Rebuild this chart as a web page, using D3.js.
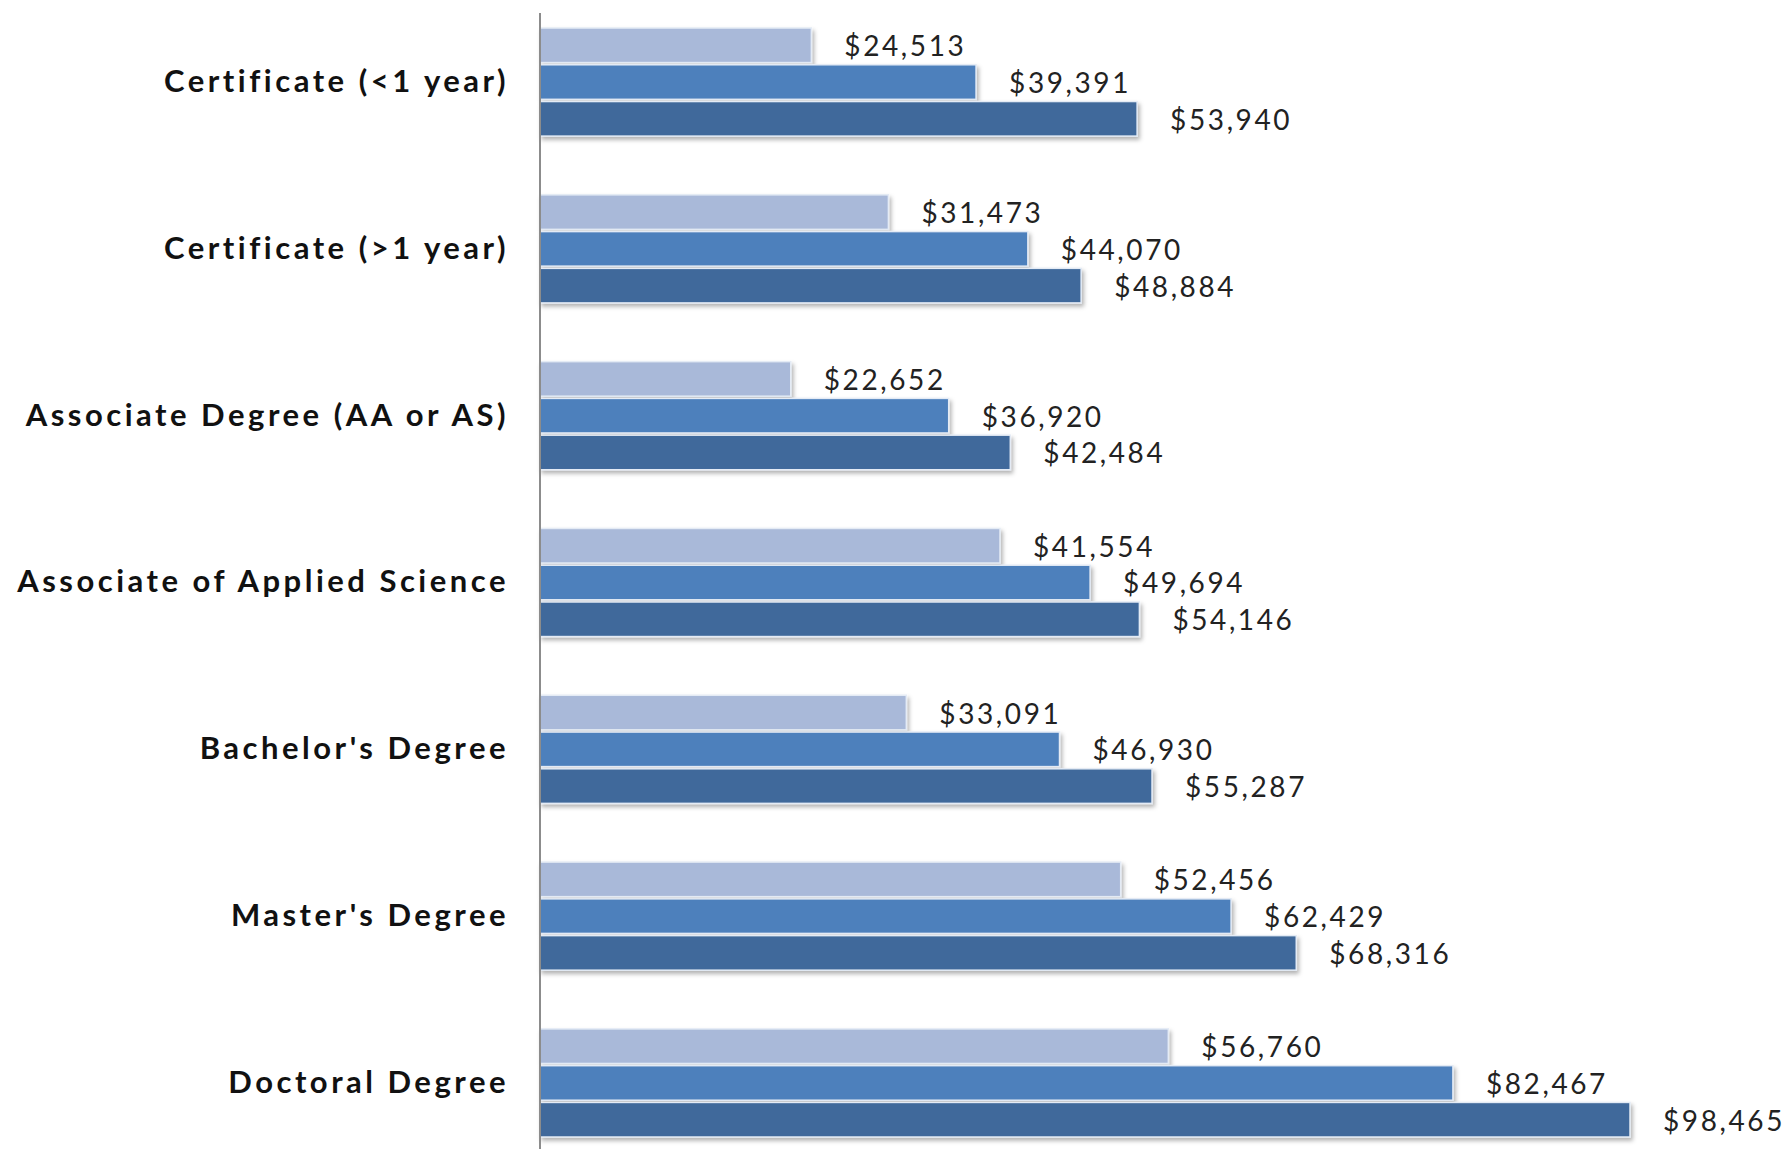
<html>
<head>
    <style>
        html,
        body {
            margin: 0;
            background-color: #ffffff;
        }

        svg {
            display: block;
        }

        .catLabel {
            font-family: "Century Gothic", "Lato", sans-serif;
            font-weight: 700;
            font-size: 31px;
            letter-spacing: 3.5px;
            fill: #111111;
        }

        .valLabel {
            font-family: "Century Gothic", "Lato", sans-serif;
            font-size: 28px;
            letter-spacing: 2.6px;
            fill: #222222;
        }
    </style>
</head>

<body>
    <div id="chart"></div>
</body>

</html>

<script src="https://d3js.org/d3.v7.min.js"></script>

<script>
    // categories (top to bottom)
    var categories = ["Certificate (<1 year)", "Certificate (>1 year)", "Associate Degree (AA or AS)",
        "Associate of Applied Science", "Bachelor's Degree", "Master's Degree", "Doctoral Degree"];

    // three series, drawn light / mid / dark inside each group
    var seriesNames = ["s1", "s2", "s3"];
    var series1 = [24513, 31473, 22652, 41554, 33091, 52456, 56760];
    var series2 = [39391, 44070, 36920, 49694, 46930, 62429, 82467];
    var series3 = [53940, 48884, 42484, 54146, 55287, 68316, 98465];
    var seriesColors = ["#a9b9d9", "#4e80bc", "#3f699b"];

    var width = 1787,
        height = 1149;

    var svg = d3.select("#chart").append("svg")
        .attr("width", width)
        .attr("height", height);

    // drop shadow like the spreadsheet chart
    var defs = svg.append("defs");
    var filter = defs.append("filter")
        .attr("id", "shadow")
        .attr("x", "-5%").attr("y", "-20%")
        .attr("width", "110%").attr("height", "160%");
    filter.append("feDropShadow")
        .attr("dx", 2)
        .attr("dy", 3)
        .attr("stdDeviation", 2)
        .attr("flood-color", "#000")
        .attr("flood-opacity", 0.3);

    var axisX = 540;

    var yscale = d3.scaleBand()
        .domain(categories)
        .range([28, 1137])
        .paddingInner(0.352)
        .paddingOuter(0);

    var yinner = d3.scaleBand()
        .domain(seriesNames)
        .range([0, yscale.bandwidth()])
        .paddingInner(0.06);

    var xscale = d3.scaleLinear()
        .domain([0, 100000])
        .range([axisX, axisX + 1107]);

    var rows = categories.map(function (c, i) {
        return {
            key: c,
            values: [series1[i], series2[i], series3[i]]
        };
    });

    // groups
    var groups = svg.selectAll(".group")
        .data(rows)
        .enter().append("g")
        .attr("class", "group")
        .attr("transform", function (d) { return "translate(0," + yscale(d.key) + ")"; });

    // bars
    groups.selectAll(".bar")
        .data(function (d) {
            return d.values.map(function (v, j) { return { s: seriesNames[j], v: v, j: j }; });
        })
        .enter().append("rect")
        .attr("class", "bar")
        .attr("x", xscale(0))
        .attr("y", function (d) { return yinner(d.s); })
        .attr("width", function (d) { return xscale(d.v) - xscale(0); })
        .attr("height", yinner.bandwidth())
        .attr("fill", function (d) { return seriesColors[d.j]; })
        .attr("stroke", "#e4ebf5")
        .attr("stroke-width", 1.5)
        .attr("filter", "url(#shadow)");

    // value labels
    groups.selectAll(".valLabel")
        .data(function (d) {
            return d.values.map(function (v, j) { return { s: seriesNames[j], v: v }; });
        })
        .enter().append("text")
        .attr("class", "valLabel")
        .attr("x", function (d) { return xscale(d.v) + 33; })
        .attr("y", function (d) { return yinner(d.s) + yinner.bandwidth() / 2; })
        .attr("dominant-baseline", "central")
        .text(function (d) { return "$" + d3.format(",")(d.v); });

    // category labels
    groups.append("text")
        .attr("class", "catLabel")
        .attr("x", 509)
        .attr("y", yinner("s2") + yinner.bandwidth() / 2 - 2)
        .attr("text-anchor", "end")
        .attr("dominant-baseline", "central")
        .text(function (d) { return d.key; });

    // vertical axis line
    svg.append("line")
        .attr("x1", axisX)
        .attr("x2", axisX)
        .attr("y1", 13)
        .attr("y2", height)
        .attr("stroke", "#8c8c8c")
        .attr("stroke-width", 2);
</script>
